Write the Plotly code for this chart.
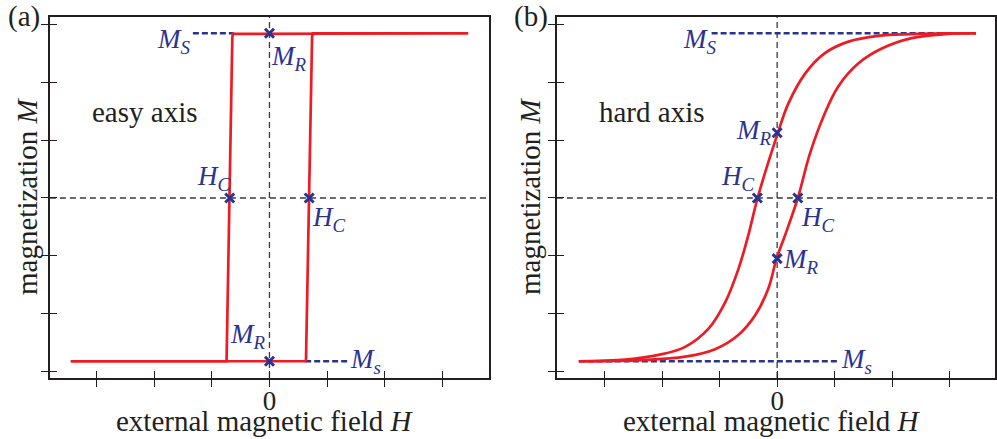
import plotly.graph_objects as go

# ---------------- data ----------------
# tick positions (both axes, both panels)
tick_vals = [-3, -2, -1, 0, 1, 2, 3]
x_tick_text = ["", "", "", "0", "", "", ""]

# saturation level
M_sat_top = 2.855
M_sat_bot = -2.83

# (a) easy axis: square loop
easy_down_H = [3.45, -0.60, -0.635, -0.645, -0.69, -0.735, -0.745, -3.45]
easy_down_M = [2.855, 2.855, 2.845, 2.78, 0.0, -2.80, -2.83, -2.83]
easy_up_H = [-3.45, 0.625, 0.635, 0.69, 0.74, 0.755, 3.45]
easy_up_M = [-2.83, -2.83, -2.79, 0.0, 2.79, 2.855, 2.855]
easy_mark_H = [-0.69, 0.69, 0.0, 0.0]
easy_mark_M = [0.0, 0.0, 2.855, -2.83]

# (b) hard axis: sheared loop
hard_down_H = [3.46, 2.92, 2.33, 1.76, 1.24, 0.83, 0.49, 0.196, 0.01, -0.34,
               -0.50, -0.67, -0.90, -1.19, -1.60, -2.06, -2.64, -3.45]
hard_down_M = [2.855, 2.853, 2.84, 2.81, 2.71, 2.51, 2.16, 1.64, 1.12, 0.0,
               -0.64, -1.22, -1.80, -2.26, -2.58, -2.72, -2.80, -2.83]
hard_up_H = [-3.45, -2.35, -1.60, -1.08, -0.67, -0.38, -0.15, -0.01, 0.14,
             0.36, 0.57, 0.83, 1.06, 1.41, 1.82, 2.34, 2.92, 3.46]
hard_up_M = [-2.83, -2.81, -2.75, -2.62, -2.37, -2.03, -1.56, -1.05, -0.64,
             0.0, 0.77, 1.47, 1.93, 2.33, 2.59, 2.77, 2.84, 2.855]
hard_mark_H = [-0.345, 0.36, 0.0, 0.0]
hard_mark_M = [0.0, 0.0, 1.13, -1.05]

# saturation guide lines (dashed)
easy_sat_top_H = [-1.33, -0.62]
easy_sat_bot_H = [0.62, 1.35]
hard_sat_top_H = [-1.14, 3.46]
hard_sat_bot_H = [-3.45, 1.07]

# ---------------- style ----------------
W, H = 997, 439
RED = "#ED1C24"
BLUE = "#2B3391"
INK = "#231F20"
SERIF = "Liberation Serif, Times New Roman, serif"

XR_A = [-3.813, 3.813]
XR_B = [-3.832, 3.790]
YR = [-3.12, 3.137]
Y_DOM = [(H - 378) / H, (H - 17) / H]
XD_A = [50 / W, 490 / W]
XD_B = [558 / W, 1.0]

fig = go.Figure()


def add_panel(xa, ya, xo, yo, down_H, down_M, up_H, up_M, mk_H, mk_M,
              top_H, bot_H, shape):
    # dashed saturation references
    fig.add_trace(go.Scatter(x=top_H, y=[M_sat_top] * 2, mode="lines",
                             line=dict(color=BLUE, width=2.3, dash="6px,3px"),
                             xaxis=xa, yaxis=ya, hoverinfo="skip"))
    fig.add_trace(go.Scatter(x=bot_H, y=[M_sat_bot] * 2, mode="lines",
                             line=dict(color=BLUE, width=2.3, dash="6px,3px"),
                             xaxis=xa, yaxis=ya, hoverinfo="skip"))
    # hysteresis branches
    for hh, mm in ((down_H, down_M), (up_H, up_M)):
        fig.add_trace(go.Scatter(x=hh, y=mm, mode="lines",
                                 line=dict(color=RED, width=2.7, shape=shape,
                                           smoothing=1.0),
                                 xaxis=xa, yaxis=ya, hoverinfo="skip"))
    # remanence / coercivity markers (on the overlay axes, drawn on top)
    fig.add_trace(go.Scatter(x=mk_H, y=mk_M, mode="markers",
                             marker=dict(symbol="x-thin", size=9,
                                         line=dict(color=BLUE, width=3)),
                             xaxis=xo, yaxis=yo, hoverinfo="skip"))


add_panel("x", "y", "x3", "y3", easy_down_H, easy_down_M, easy_up_H, easy_up_M,
          easy_mark_H, easy_mark_M, easy_sat_top_H, easy_sat_bot_H, "linear")
add_panel("x2", "y2", "x4", "y4", hard_down_H, hard_down_M, hard_up_H, hard_up_M,
          hard_mark_H, hard_mark_M, hard_sat_top_H, hard_sat_bot_H, "spline")

axis_common = dict(showgrid=False, zeroline=False, linecolor=INK,
                   tickcolor=INK, tickwidth=1.3, ticklen=7,
                   tickmode="array", tickvals=tick_vals, fixedrange=True)

base_x = dict(axis_common, showline=True, linewidth=1.5, mirror=True,
              ticks="outside", ticktext=x_tick_text, ticklabelstandoff=-9,
              tickfont=dict(family=SERIF, size=27, color=INK))
base_y = dict(axis_common, showline=True, linewidth=1.5, mirror=True,
              ticks="outside", showticklabels=False, range=YR, domain=Y_DOM)
over = dict(axis_common, showline=False, ticks="inside", showticklabels=False)

fig.update_layout(
    width=W, height=H,
    margin=dict(l=0, r=0, t=0, b=0),
    paper_bgcolor="white", plot_bgcolor="white",
    showlegend=False,
    xaxis=dict(base_x, domain=XD_A, range=XR_A, anchor="y"),
    yaxis=dict(base_y, anchor="x"),
    xaxis2=dict(base_x, domain=XD_B, range=XR_B, anchor="y2"),
    yaxis2=dict(base_y, anchor="x2"),
    xaxis3=dict(over, overlaying="x", range=XR_A, anchor="y3"),
    yaxis3=dict(over, overlaying="y", range=YR, anchor="x3"),
    xaxis4=dict(over, overlaying="x2", range=XR_B, anchor="y4"),
    yaxis4=dict(over, overlaying="y2", range=YR, anchor="x4"),
)

# dashed cross-hairs through the origin
for xr, yr in (("x", "y"), ("x2", "y2")):
    fig.add_shape(type="line", xref=xr, yref=yr + " domain", x0=0, x1=0,
                  y0=0, y1=1, layer="below",
                  line=dict(color="#3a3a3a", width=1.3, dash="6px,4px"))
    fig.add_shape(type="line", xref=xr + " domain", yref=yr, x0=0, x1=1,
                  y0=0, y1=0, layer="below",
                  line=dict(color="#3a3a3a", width=1.3, dash="6px,4px"))


def lab(text, x, y, xr, yr, xanchor, yanchor, size=27, color=BLUE):
    fig.add_annotation(text=text, x=x, y=y, xref=xr, yref=yr,
                       xanchor=xanchor, yanchor=yanchor, showarrow=False,
                       font=dict(family=SERIF, size=size, color=color))


# panel (a) labels
lab("<i>M<sub>S</sub></i>", -1.33, 2.72, "x", "y", "right", "middle")
lab("<i>M<sub>R</sub></i>", 0.0, 2.76, "x", "y", "left", "top")
lab("easy axis", -2.17, 1.49, "x", "y", "center", "middle", 29, INK)
lab("<i>H<sub>C</sub></i>", -0.64, 0.02, "x", "y", "right", "bottom")
lab("<i>H<sub>C</sub></i>", 0.71, -0.04, "x", "y", "left", "top")
lab("<i>M<sub>R</sub></i>", -0.02, -2.72, "x", "y", "right", "bottom")
lab("<i>M<sub>s</sub></i>", 1.36, -2.82, "x", "y", "left", "middle")

# panel (b) labels
lab("<i>M<sub>S</sub></i>", -1.02, 2.72, "x2", "y2", "right", "middle")
lab("hard axis", -2.18, 1.49, "x2", "y2", "center", "middle", 29, INK)
lab("<i>M<sub>R</sub></i>", -0.06, 1.15, "x2", "y2", "right", "middle")
lab("<i>H<sub>C</sub></i>", -0.35, 0.02, "x2", "y2", "right", "bottom")
lab("<i>H<sub>C</sub></i>", 0.38, -0.04, "x2", "y2", "left", "top")
lab("<i>M<sub>R</sub></i>", 0.07, -1.1, "x2", "y2", "left", "middle")
lab("<i>M<sub>s</sub></i>", 1.08, -2.82, "x2", "y2", "left", "middle")

# axis titles and panel tags
for cx, tag, tx in ((266, "(a)", 24), (774, "(b)", 532)):
    lab("external magnetic field <i>H</i>", cx / W, 1 - 421 / H,
        "paper", "paper", "center", "middle", 29, INK)
    lab(tag, tx / W, 1 - 17 / H, "paper", "paper", "center", "middle", 29, INK)

for cx in (27, 531):
    fig.add_annotation(text="magnetization <i>M</i>", x=cx / W, y=1 - 196 / H,
                       xref="paper", yref="paper", showarrow=False,
                       textangle=-90, xanchor="center", yanchor="middle",
                       font=dict(family=SERIF, size=29, color=INK))

fig.write_html("out.html")
